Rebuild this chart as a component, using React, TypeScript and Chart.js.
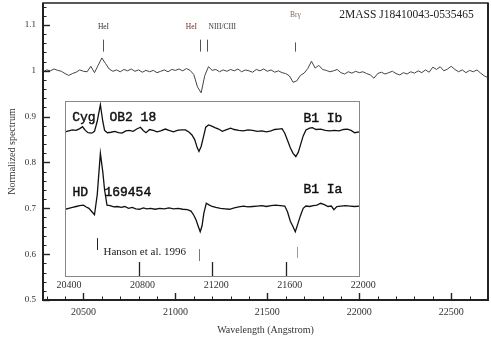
import React, { useEffect, useRef } from "react";
import { Chart, registerables } from "chart.js";

Chart.register(...registerables);

const W = 491;
const H = 341;

// ---------- main spectrum (2MASS J18410043-0535465) ----------
const mainStartWave = 20280;
const mainStepWave = 20;
const mainFlux = [
  0.998, 1.002, 1.0, 1.004, 1.001, 0.999, 0.994, 0.99, 0.994, 0.997,
  1.002, 0.999, 0.998, 1.01, 0.996, 1.012, 1.028, 1.016, 1.004, 0.999,
  1.002, 0.998, 1.003, 1.0, 1.004, 0.999, 1.002, 0.997, 1.001, 0.998,
  1.001, 0.996, 0.999, 1.002, 0.998, 1.003, 1.001, 1.004, 1.0, 1.005,
  1.001, 0.992, 0.965, 0.952, 0.99, 1.009, 1.001, 1.003, 0.998, 1.002,
  0.999, 1.003, 1.0, 1.004, 0.998, 1.002, 1.0, 0.997, 1.003, 1.0,
  1.004, 0.999, 1.002, 0.997, 1.0, 0.996, 0.994, 0.989, 0.975, 0.978,
  0.99, 0.995, 1.005, 1.021, 1.006, 1.012, 1.003, 1.001, 0.998, 1.0,
  1.003, 0.996, 0.993, 0.998, 0.995, 0.999, 0.996, 0.998, 0.994, 0.991,
  0.984, 0.994, 0.997, 0.993, 0.996, 0.999, 0.994, 0.991, 0.996, 0.993,
  0.998, 0.995, 1.0, 0.996, 1.002, 0.997, 1.008, 1.003, 1.009, 1.0,
  1.004, 1.01, 1.003, 0.998, 1.002, 0.996, 1.001, 0.998, 1.002, 0.995,
  0.989, 0.985,
];

const mainXMin = 20280;
const mainXMax = 22700;
const mainYMin = 0.5;
const mainYMax = 1.148;
const xTickValues = [20500, 21000, 21500, 22000, 22500];
const yTickValues = [0.5, 0.6, 0.7, 0.8, 0.9, 1, 1.1];
const xMinorStep = 100;
const yMinorStep = 0.02;

// line identification marks above the spectrum
const lineMarkWave = [20607, 21136, 21174, 21652];
const lineMarkLow = [1.042, 1.042, 1.042, 1.042];
const lineMarkHigh = [1.068, 1.068, 1.068, 1.062];
const lineLabelText = ["HeI", "HeI", "NIII/CIII", "Brγ"];
const lineLabelWave = [20609, 21087, 21255, 21652];
const lineLabelValue = [1.096, 1.096, 1.096, 1.122];
const lineLabelColor = ["#333333", "#6e2f25", "#333333", "#7a6a5a"];

const targetName = "2MASS J18410043-0535465";
const targetWave = 21891;
const targetValue = 1.122;

// ---------- inset: comparison spectra ----------
const insetXMin = 20400;
const insetXMax = 22000;
const insetYMin = 0.5524;
const insetYMax = 0.9345;
const insetTickLabels = [20400, 20800, 21200, 21600, 22000];
const insetTickMarks = [20800, 21200, 21600];

const cygWave = [
  20400, 20420, 20440, 20460, 20480, 20495, 20510, 20525, 20545, 20560,
  20575, 20592, 20605, 20615, 20630, 20650, 20670, 20690, 20710, 20730,
  20750, 20770, 20790, 20810, 20825, 20840, 20860, 20880, 20900, 20920,
  20945, 20965, 20990, 21010, 21030, 21055, 21075, 21090, 21105, 21118,
  21128, 21140, 21152, 21165, 21180, 21195, 21215, 21235, 21255, 21275,
  21300, 21320, 21345, 21370, 21395, 21420, 21445, 21470, 21495, 21520,
  21540, 21560, 21580, 21595, 21610, 21625, 21640, 21655, 21668, 21680,
  21695, 21710, 21730, 21745, 21765, 21790, 21815, 21840, 21865, 21890,
  21915, 21935, 21955, 21975, 22000,
];
const cygFlux = [
  0.867, 0.869, 0.871, 0.87, 0.874, 0.878, 0.87, 0.865, 0.864, 0.868,
  0.89, 0.926, 0.89, 0.87, 0.865, 0.866, 0.868, 0.865, 0.864, 0.869,
  0.87, 0.868, 0.873, 0.877, 0.87, 0.865, 0.872, 0.87, 0.867, 0.869,
  0.873, 0.87, 0.867, 0.87, 0.871, 0.871, 0.866, 0.86, 0.85, 0.833,
  0.824, 0.835, 0.855, 0.877, 0.882, 0.88, 0.876, 0.873, 0.868, 0.871,
  0.875, 0.872, 0.87, 0.869, 0.871, 0.87, 0.868, 0.869, 0.867, 0.869,
  0.872, 0.873, 0.874, 0.864, 0.848, 0.832, 0.82, 0.813, 0.822, 0.838,
  0.858, 0.871, 0.875, 0.876, 0.872, 0.873, 0.87, 0.869, 0.87, 0.869,
  0.872, 0.873, 0.87, 0.865, 0.867,
];

const hdWave = [
  20400, 20420, 20440, 20460, 20480, 20500, 20515, 20530, 20545, 20560,
  20575, 20592, 20605, 20615, 20628, 20645, 20665, 20685, 20705, 20725,
  20745, 20765, 20785, 20805, 20825, 20845, 20865, 20890, 20915, 20940,
  20965, 20990, 21015, 21040, 21065, 21085, 21100, 21112, 21125, 21135,
  21145, 21155, 21168, 21185, 21200, 21220, 21245, 21270, 21295, 21320,
  21345, 21370, 21395, 21420, 21445, 21470, 21495, 21520, 21545, 21570,
  21595, 21610, 21625, 21640, 21652, 21665, 21680, 21695, 21710, 21730,
  21750, 21770, 21790, 21810, 21830, 21848, 21862, 21878, 21900, 21925,
  21950, 21975, 22000,
];
const hdFlux = [
  0.698, 0.7, 0.702, 0.704, 0.706, 0.707, 0.703, 0.7, 0.693, 0.686,
  0.73, 0.82, 0.78, 0.74, 0.707, 0.706, 0.703, 0.704, 0.702, 0.704,
  0.7, 0.702, 0.699, 0.698, 0.701, 0.699, 0.7, 0.698, 0.7, 0.699,
  0.701, 0.699, 0.7, 0.698, 0.697, 0.694, 0.685, 0.675, 0.66, 0.649,
  0.662, 0.69, 0.711, 0.707, 0.704, 0.702, 0.7, 0.699, 0.698, 0.701,
  0.703, 0.705, 0.703, 0.704, 0.705, 0.706, 0.704, 0.706, 0.707, 0.706,
  0.705, 0.692, 0.672, 0.66, 0.649, 0.665, 0.684, 0.7, 0.705, 0.704,
  0.706, 0.707, 0.711, 0.708, 0.704, 0.705, 0.697, 0.704, 0.705, 0.706,
  0.705, 0.704, 0.705,
];

// inset text labels
const insetLabelText = ["Cyg", "OB2 18", "B1 Ib", "HD", "169454", "B1 Ia"];
const insetLabelWave = [20439, 20641, 21696, 20440, 20614, 21696];
const insetLabelValue = [0.897, 0.897, 0.895, 0.734, 0.734, 0.74];

const refText = "Hanson et al. 1996";
const refWave = 20609;
const refValue = 0.6055;
const refMarkWave = [20571, 21127, 21661];
const refMarkLow = [0.609, 0.585, 0.592];
const refMarkHigh = [0.635, 0.611, 0.616];
const refMarkColor = ["#222222", "#777777", "#999999"];

const SERIF = "'Liberation Serif', 'Times New Roman', serif";
const MONO = "'Liberation Mono', 'DejaVu Sans Mono', monospace";

const mainDecor = {
  id: "mainDecor",
  afterDraw(chart: any) {
    const { ctx, chartArea: a, scales } = chart;
    const xs = scales.x;
    const ys = scales.y;
    ctx.save();
    ctx.strokeStyle = "#222";
    ctx.lineWidth = 1;
    // x ticks (major + minor), inward
    for (let k = Math.ceil(xs.min / xMinorStep); k * xMinorStep <= xs.max; k++) {
      const v = k * xMinorStep;
      const px = Math.round(xs.getPixelForValue(v)) + 0.5;
      const major = xTickValues.includes(v);
      ctx.lineWidth = major ? 1.4 : 1;
      ctx.beginPath();
      ctx.moveTo(px, a.bottom);
      ctx.lineTo(px, a.bottom - (major ? 7 : 3.5));
      ctx.stroke();
    }
    // y ticks
    for (let k = Math.ceil(ys.min / yMinorStep - 1e-6); k * yMinorStep <= ys.max + 1e-9; k++) {
      const v = k * yMinorStep;
      const py = Math.round(ys.getPixelForValue(v)) + 0.5;
      const major = Math.abs(v * 10 - Math.round(v * 10)) < 1e-6;
      ctx.lineWidth = major ? 1.4 : 1;
      ctx.beginPath();
      ctx.moveTo(a.left, py);
      ctx.lineTo(a.left + (major ? 7 : 3.5), py);
      ctx.stroke();
    }
    // frame
    ctx.lineWidth = 1.5;
    ctx.strokeStyle = "#222";
    ctx.strokeRect(a.left, a.top, a.right - a.left, a.bottom - a.top);
    ctx.lineWidth = 2;
    ctx.beginPath();
    ctx.moveTo(a.left, a.top);
    ctx.lineTo(a.left, a.bottom);
    ctx.lineTo(a.right, a.bottom);
    ctx.lineTo(a.right, a.top);
    ctx.stroke();
    // line identification marks
    ctx.lineWidth = 1;
    ctx.strokeStyle = "#555";
    lineMarkWave.forEach((w, i) => {
      const px = Math.round(xs.getPixelForValue(w)) + 0.5;
      ctx.beginPath();
      ctx.moveTo(px, ys.getPixelForValue(lineMarkLow[i]));
      ctx.lineTo(px, ys.getPixelForValue(lineMarkHigh[i]));
      ctx.stroke();
    });
    ctx.font = `7.5px ${SERIF}`;
    ctx.textAlign = "center";
    ctx.textBaseline = "middle";
    lineLabelText.forEach((t, i) => {
      ctx.fillStyle = lineLabelColor[i];
      ctx.fillText(t, xs.getPixelForValue(lineLabelWave[i]), ys.getPixelForValue(lineLabelValue[i]));
    });
    ctx.font = `11.5px ${SERIF}`;
    ctx.textAlign = "left";
    ctx.fillStyle = "#222";
    ctx.fillText(targetName, xs.getPixelForValue(targetWave), ys.getPixelForValue(targetValue));
    ctx.restore();
  },
};

const insetDecor = {
  id: "insetDecor",
  beforeDraw(chart: any) {
    const { ctx, chartArea: a } = chart;
    ctx.save();
    ctx.fillStyle = "#ffffff";
    ctx.fillRect(a.left, a.top, a.right - a.left, a.bottom - a.top);
    ctx.restore();
  },
  afterDraw(chart: any) {
    const { ctx, chartArea: a, scales } = chart;
    const xs = scales.x;
    const ys = scales.y;
    ctx.save();
    ctx.strokeStyle = "#888";
    ctx.lineWidth = 1;
    ctx.strokeRect(Math.round(a.left) + 0.5, Math.round(a.top) + 0.5, Math.round(a.right - a.left), Math.round(a.bottom - a.top));
    ctx.strokeStyle = "#222";
    ctx.lineWidth = 1.3;
    insetTickMarks.forEach((v) => {
      const px = Math.round(xs.getPixelForValue(v)) + 0.5;
      ctx.beginPath();
      ctx.moveTo(px, a.bottom);
      ctx.lineTo(px, a.bottom - 14);
      ctx.stroke();
    });
    refMarkWave.forEach((w, i) => {
      const px = Math.round(xs.getPixelForValue(w)) + 0.5;
      ctx.strokeStyle = refMarkColor[i];
      ctx.lineWidth = 1;
      ctx.beginPath();
      ctx.moveTo(px, ys.getPixelForValue(refMarkLow[i]));
      ctx.lineTo(px, ys.getPixelForValue(refMarkHigh[i]));
      ctx.stroke();
    });
    ctx.fillStyle = "#111";
    ctx.strokeStyle = "#111";
    ctx.lineWidth = 0.45;
    ctx.textAlign = "left";
    ctx.textBaseline = "middle";
    ctx.font = `13px ${MONO}`;
    insetLabelText.forEach((t, i) => {
      const px = xs.getPixelForValue(insetLabelWave[i]);
      const py = ys.getPixelForValue(insetLabelValue[i]);
      ctx.fillText(t, px, py);
      ctx.strokeText(t, px, py);
    });
    ctx.font = `11px ${SERIF}`;
    ctx.fillStyle = "#222";
    ctx.fillText(refText, xs.getPixelForValue(refWave), ys.getPixelForValue(refValue));
    ctx.restore();
  },
};

export default function App() {
  const mainRef = useRef<HTMLCanvasElement | null>(null);
  const insetRef = useRef<HTMLCanvasElement | null>(null);

  useEffect(() => {
    if (!mainRef.current || !insetRef.current) return;
    Chart.defaults.font.family = SERIF;

    const main = new Chart(mainRef.current, {
      type: "line",
      data: {
        datasets: [
          {
            label: "2MASS J18410043-0535465",
            data: mainFlux.map((v, i) => ({ x: mainStartWave + i * mainStepWave, y: v })),
            borderColor: "#444",
            borderWidth: 1,
            pointRadius: 0,
            tension: 0,
            fill: false,
          },
        ],
      },
      options: {
        responsive: false,
        animation: false,
        devicePixelRatio: 1,
        layout: { padding: { left: 0, right: 3, top: 3, bottom: 0 } },
        plugins: { legend: { display: false }, tooltip: { enabled: false } },
        events: [],
        scales: {
          x: {
            type: "linear",
            min: mainXMin,
            max: mainXMax,
            afterBuildTicks: (s: any) => {
              s.ticks = xTickValues.map((v) => ({ value: v }));
            },
            afterFit: (s: any) => {
              s.height = 41;
              s.paddingLeft = 0;
              s.paddingRight = 0;
            },
            grid: { display: false, drawTicks: false },
            border: { display: false },
            ticks: {
              padding: 6,
              color: "#333",
              font: { family: SERIF, size: 10 },
              maxRotation: 0,
              autoSkip: false,
              callback: (v: any) => String(v),
            },
            title: {
              display: true,
              text: "Wavelength (Angstrom)",
              color: "#333",
              font: { family: SERIF, size: 10 },
              padding: { top: 0, bottom: 5 },
            },
          },
          y: {
            type: "linear",
            min: mainYMin,
            max: mainYMax,
            afterBuildTicks: (s: any) => {
              s.ticks = yTickValues.map((v) => ({ value: v }));
            },
            afterFit: (s: any) => {
              s.width = 43;
              s.paddingTop = 0;
              s.paddingBottom = 0;
            },
            grid: { display: false, drawTicks: false },
            border: { display: false },
            ticks: {
              padding: 7,
              color: "#3b2b2b",
              font: { family: SERIF, size: 9 },
              autoSkip: false,
              callback: (v: any) => (Number(v) === 1 ? "1" : Number(v).toFixed(1)),
            },
            title: {
              display: true,
              text: "Normalized spectrum",
              color: "#333",
              font: { family: SERIF, size: 10 },
              padding: { top: 6, bottom: 0 },
            },
          },
        },
      },
      plugins: [mainDecor],
    } as any);

    const mx = main.scales.x;
    const my = main.scales.y;
    const iLeft = mx.getPixelForValue(insetXMin);
    const iRight = mx.getPixelForValue(insetXMax);
    const iTop = my.getPixelForValue(insetYMax);
    const iBottom = my.getPixelForValue(insetYMin);
    const insetAxisHeight = 20;

    const inset = new Chart(insetRef.current, {
      type: "line",
      data: {
        datasets: [
          {
            label: "Cyg OB2 18",
            data: cygWave.map((w, i) => ({ x: w, y: cygFlux[i] })),
            borderColor: "#111",
            borderWidth: 1.3,
            pointRadius: 0,
            tension: 0,
            fill: false,
          },
          {
            label: "HD 169454",
            data: hdWave.map((w, i) => ({ x: w, y: hdFlux[i] })),
            borderColor: "#111",
            borderWidth: 1.3,
            pointRadius: 0,
            tension: 0,
            fill: false,
          },
        ],
      },
      options: {
        responsive: false,
        animation: false,
        devicePixelRatio: 1,
        events: [],
        layout: {
          padding: {
            left: iLeft,
            right: W - iRight,
            top: iTop,
            bottom: H - iBottom - insetAxisHeight,
          },
        },
        plugins: { legend: { display: false }, tooltip: { enabled: false } },
        scales: {
          x: {
            type: "linear",
            min: insetXMin,
            max: insetXMax,
            afterBuildTicks: (s: any) => {
              s.ticks = insetTickLabels.map((v) => ({ value: v }));
            },
            afterFit: (s: any) => {
              s.height = insetAxisHeight;
              s.paddingLeft = 0;
              s.paddingRight = 0;
            },
            grid: { display: false, drawTicks: false },
            border: { display: false },
            ticks: {
              padding: 3,
              labelOffset: 4,
              color: "#333",
              font: { family: SERIF, size: 10 },
              maxRotation: 0,
              autoSkip: false,
              callback: (v: any) => String(v),
            },
          },
          y: {
            type: "linear",
            display: false,
            min: insetYMin,
            max: insetYMax,
          },
        },
      },
      plugins: [insetDecor],
    } as any);

    return () => {
      inset.destroy();
      main.destroy();
    };
  }, []);

  return (
    <div style={{ position: "absolute", left: 0, top: 0, width: W, height: H, background: "#fff" }}>
      <canvas ref={mainRef} width={W} height={H} style={{ position: "absolute", left: 0, top: 0 }} />
      <canvas ref={insetRef} width={W} height={H} style={{ position: "absolute", left: 0, top: 0 }} />
    </div>
  );
}
